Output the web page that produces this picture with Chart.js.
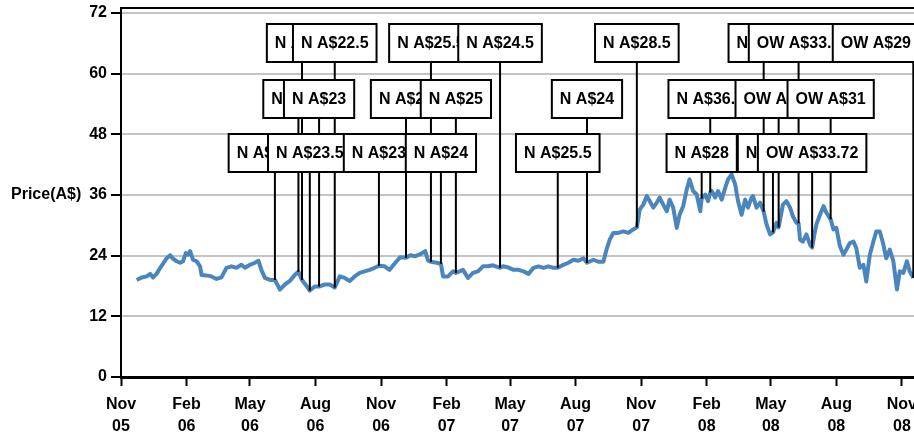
<!DOCTYPE html>
<html>
<head>
<meta charset="utf-8">
<script src="https://cdn.jsdelivr.net/npm/chart.js@4.4.1/dist/chart.umd.min.js"></script>
<style>
  html, body { margin: 0; padding: 0; background: #fff; overflow: hidden; }
  #wrap { position: relative; width: 930px; height: 436px; }
</style>
</head>
<body>
<div id="wrap"><canvas id="priceChart"></canvas></div>
<script>
// x values are days after 1 Nov 2005
const dayOffset = [
  22, 29, 36, 41, 45, 50, 55, 59, 64, 69, 73, 78, 83, 87, 91, 94, 97, 101, 106, 111,
  113, 120, 127, 134, 141, 148, 155, 162, 169, 174, 181, 188, 193, 197, 202, 209, 216, 223, 230, 237,
  244, 249, 254, 261, 265, 272, 278, 286, 293, 300, 307, 314, 321, 328, 335, 342, 349, 356, 362, 370,
  377, 385, 392, 400, 406, 413, 420, 427, 431, 435, 443, 449, 452, 459, 466, 470, 480, 487, 494, 501,
  508, 515, 522, 532, 536, 543, 551, 558, 565, 572, 579, 586, 593, 600, 607, 613, 621, 628, 635, 642,
  649, 654, 663, 670, 677, 682, 686, 691, 698, 705, 712, 719, 724, 728, 733, 738, 742, 747, 752, 756,
  761, 766, 770, 775, 780, 784, 789, 794, 798, 803, 808, 813, 815, 820, 824, 827, 829, 834, 838, 843,
  848, 852, 857, 862, 866, 871, 876, 880, 885, 887, 892, 897, 902, 906, 911, 915, 920, 923, 929, 934,
  939, 943, 948, 951, 953, 957, 962, 967, 970, 974, 976, 981, 986, 990, 996, 1000, 1004, 1009, 1014, 1018,
  1023, 1028, 1032, 1037, 1042, 1046, 1051, 1056, 1060, 1065, 1070, 1074, 1079, 1084, 1089, 1093, 1098, 1103, 1107, 1112
];
const price = [
  19.2, 19.7, 19.9, 20.4, 19.7, 20.4, 21.6, 22.4, 23.5, 24.1, 23.4, 22.9, 22.6, 22.9, 24.5, 24.2, 24.9, 23.2, 22.9, 21.9,
  20.2, 20.1, 19.9, 19.4, 19.7, 21.6, 21.9, 21.6, 22.2, 21.6, 22.2, 22.6, 23.0, 21.2, 19.6, 19.2, 19.2, 17.3, 18.3, 19.0,
  20.2, 20.8, 19.2, 17.9, 17.1, 17.9, 17.9, 18.3, 18.3, 17.7, 19.9, 19.6, 19.0, 19.9, 20.6, 20.9, 21.2, 21.6, 22.0, 21.9,
  21.2, 22.6, 23.7, 23.6, 24.1, 23.9, 24.3, 24.9, 23.0, 22.8, 22.6, 22.4, 19.9, 19.9, 20.9, 20.6, 21.2, 19.6, 20.6, 20.9,
  21.9, 21.9, 22.1, 21.6, 21.9, 21.7, 21.2, 21.2, 20.9, 20.4, 21.6, 21.9, 21.6, 21.9, 21.6, 21.6, 22.2, 22.6, 23.2, 23.0,
  23.5, 22.6, 23.2, 22.8, 22.8, 25.5, 27.2, 28.5, 28.5, 28.8, 28.5, 29.2, 29.6, 33.1, 34.1, 35.8, 34.8, 33.5, 34.5, 35.5,
  34.1, 32.8, 35.1, 33.5, 29.5, 32.1, 33.8, 37.1, 39.1, 36.8, 36.1, 32.8, 35.3, 36.1, 34.8, 36.5, 36.8, 35.5, 36.8, 35.1,
  37.4, 39.1, 40.1, 38.1, 34.8, 32.1, 35.1, 33.5, 35.5, 35.8, 33.5, 34.5, 32.7, 30.2, 28.2, 28.6, 30.5, 29.6, 34.1, 34.8,
  33.5, 31.8, 30.5, 30.4, 27.2, 26.8, 28.2, 26.2, 25.6, 28.8, 30.2, 32.1, 33.8, 32.5, 31.2, 29.2, 29.5, 25.9, 24.2, 25.2,
  26.5, 26.8, 25.5, 21.6, 22.2, 18.9, 24.2, 26.8, 28.8, 28.8, 26.2, 23.5, 25.2, 22.9, 17.3, 20.9, 20.6, 22.9, 20.9, 19.6
];

// broker calls: day after 1 Nov 2005, price at the call, label, label row (0 = top)
const noteDay = [216, 249, 254, 265, 278, 300, 362, 400, 435, 449, 470, 532, 613, 654, 724, 815, 827, 902, 915, 923, 951, 970, 996, 1112];
const notePrice = [19.2, 20.8, 19.2, 17.1, 17.9, 17.7, 22.0, 23.6, 22.8, 22.4, 20.6, 21.6, 21.6, 22.6, 29.6, 35.3, 36.5, 32.7, 28.6, 29.6, 30.4, 25.6, 31.2, 19.6];
const noteText = [
  'N A$23.75', 'N A$22', 'N A$23', 'N A$23.5', 'N A$23', 'N A$22.5', 'N A$23', 'N A$24',
  'N A$25.5', 'N A$24', 'N A$25', 'N A$24.5', 'N A$25.5', 'N A$24', 'N A$28.5', 'N A$28',
  'N A$36.5', 'N A$36', 'N A$33', 'OW A$33', 'OW A$33.5', 'OW A$33.72', 'OW A$31', 'OW A$29'
];
const noteRow = [2, 1, 0, 2, 1, 0, 2, 1, 0, 2, 1, 0, 2, 1, 0, 2, 1, 0, 2, 1, 0, 2, 1, 0];

const xTickDates = ['2005-11-01', '2006-02-01', '2006-05-01', '2006-08-01', '2006-11-01', '2007-02-01', '2007-05-01',
  '2007-08-01', '2007-11-01', '2008-02-01', '2008-05-01', '2008-08-01', '2008-11-01'];
const xTickLabels = [['Nov', '05'], ['Feb', '06'], ['May', '06'], ['Aug', '06'], ['Nov', '06'], ['Feb', '07'], ['May', '07'],
  ['Aug', '07'], ['Nov', '07'], ['Feb', '08'], ['May', '08'], ['Aug', '08'], ['Nov', '08']];
const yTicks = [0, 12, 24, 36, 48, 60, 72];

const start = Date.UTC(2005, 10, 1);
const toDay = (s) => Math.round((Date.parse(s + 'T00:00:00Z') - start) / 86400000);
const xTickDays = xTickDates.map(toDay);

const FONT = '"Liberation Sans", Arial, Helvetica, sans-serif';

const notesPlugin = {
  id: 'notes',
  beforeDatasetsDraw(chart) {
    const { ctx, chartArea: a } = chart;
    ctx.save();
    ctx.strokeStyle = '#000';
    ctx.lineWidth = 2;
    ctx.beginPath();
    ctx.moveTo(a.left, a.top);
    ctx.lineTo(a.right, a.top);
    ctx.stroke();
    ctx.restore();
  },
  afterDatasetsDraw(chart) {
    const { ctx, chartArea: a, scales } = chart;
    const rowCenter = [35, 91, 145];
    const boxH = 38;
    ctx.save();
    ctx.font = 'bold 16px ' + FONT;
    ctx.strokeStyle = '#000';
    ctx.lineWidth = 2;
    noteDay.forEach((d, i) => {
      const px = scales.x.getPixelForValue(d);
      const top = a.top + rowCenter[noteRow[i]];
      ctx.beginPath();
      ctx.moveTo(px, top);
      ctx.lineTo(px, scales.y.getPixelForValue(notePrice[i]));
      ctx.stroke();
    });
    noteDay.forEach((d, i) => {
      const px = scales.x.getPixelForValue(d);
      const w = ctx.measureText(noteText[i]).width + 16;
      let left = Math.min(px - w / 2, a.right - w);
      left = Math.max(left, a.left);
      const cy = a.top + rowCenter[noteRow[i]];
      ctx.fillStyle = '#fff';
      ctx.fillRect(left, cy - boxH / 2, w, boxH);
      ctx.strokeRect(left, cy - boxH / 2, w, boxH);
      ctx.fillStyle = '#000';
      ctx.textAlign = 'center';
      ctx.textBaseline = 'middle';
      ctx.fillText(noteText[i], left + w / 2, cy + 1);
    });
    ctx.restore();
  },
  afterDraw(chart) {
    const { ctx, chartArea: a } = chart;
    ctx.save();
    ctx.font = 'bold 16px ' + FONT;
    ctx.fillStyle = '#000';
    ctx.textAlign = 'left';
    ctx.textBaseline = 'middle';
    ctx.fillText('Price(A$)', 11, (a.top + a.bottom) / 2 + 2);
    ctx.restore();
  }
};

const ctx = document.getElementById('priceChart').getContext('2d');

const chart = new Chart(ctx, {
  type: 'line',
  data: {
    datasets: [{
      data: dayOffset.map((d, i) => ({ x: d, y: price[i] })),
      borderColor: '#4a86bd',
      borderWidth: 4,
      pointRadius: 0,
      tension: 0,
      borderJoinStyle: 'round',
      fill: false,
    }],
  },
  options: {
    responsive: true,
    maintainAspectRatio: false,
    animation: false,
    layout: { padding: { top: 8, right: 11, left: 0, bottom: 0 } },
    plugins: {
      legend: { display: false },
      tooltip: { enabled: false },
    },
    scales: {
      x: {
        type: 'linear',
        min: 0,
        max: 1120,
        afterBuildTicks: (s) => { s.ticks = xTickDays.map(v => ({ value: v })); },
        afterFit: (s) => { s.height = 59; s.paddingLeft = 0; s.paddingRight = 0; },
        border: { color: '#000', width: 3 },
        grid: { drawOnChartArea: false, tickColor: '#000', tickWidth: 2, tickLength: 9 },
        ticks: {
          autoSkip: false,
          maxRotation: 0,
          padding: 8,
          color: '#000',
          font: { family: FONT, size: 16, weight: 'bold', lineHeight: 1.35 },
          callback: (value, index) => xTickLabels[index],
        },
      },
      y: {
        min: 0,
        max: 73,
        afterBuildTicks: (s) => { s.ticks = yTicks.map(v => ({ value: v })); },
        afterFit: (s) => { s.width = 121; s.paddingTop = 0; s.paddingBottom = 0; },
        border: { color: '#000', width: 2 },
        grid: { color: '#c4c4c4', lineWidth: 2, tickColor: '#000', tickWidth: 2, tickLength: 10 },
        ticks: {
          padding: 4,
          color: '#000',
          font: { family: FONT, size: 16, weight: 'bold' },
        },
      },
    },
  },
  plugins: [notesPlugin],
});
</script>
</body>
</html>
